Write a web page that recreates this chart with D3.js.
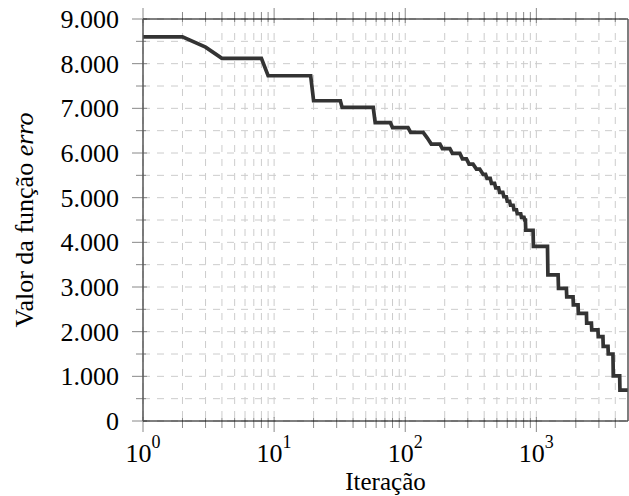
<!DOCTYPE html>
<html>
<head>
<meta charset="utf-8">
<script src="https://cdn.jsdelivr.net/npm/d3@7"></script>
<style>
  body { margin: 0; background: #fff; }
  text { font-family: 'Liberation Serif', serif; fill: #000; }
</style>
</head>
<body>
<div id="chart"></div>
<script>
// Data: iteration / error value vertices of the curve
var iterations = [1, 2, 3, 4, 8, 9, 19, 20, 32, 33, 57, 59, 77, 80, 105, 110,
  137, 147, 158, 184, 192, 219, 229, 261, 273, 293, 307, 329, 349, 370, 393,
  410, 420, 445, 455, 480, 490, 515, 525, 555, 565, 590, 600, 625, 635, 665,
  675, 705, 715, 760, 770, 805, 815, 825, 830, 944, 950, 1216, 1225, 1465,
  1475, 1695, 1705, 1905, 1915, 2080, 2090, 2410, 2420, 2630, 2645, 2950,
  2965, 3220, 3235, 3520, 3535, 3840, 3860, 4320, 4340, 5000]
var errorValues = [8600, 8600, 8370, 8120, 8120, 7730, 7730, 7170, 7170, 7020,
  7020, 6680, 6680, 6570, 6570, 6460, 6460, 6340, 6200, 6200, 6100, 6100,
  5990, 5990, 5870, 5870, 5750, 5750, 5640, 5640, 5520, 5520, 5430, 5430,
  5320, 5320, 5220, 5220, 5120, 5120, 5020, 5020, 4920, 4920, 4830, 4830,
  4730, 4730, 4640, 4640, 4560, 4560, 4500, 4500, 4270, 4270, 3910, 3910,
  3270, 3270, 2970, 2970, 2780, 2780, 2600, 2600, 2410, 2410, 2190, 2190,
  2040, 2040, 1890, 1890, 1670, 1670, 1500, 1500, 1010, 1010, 690, 690]

var yTicks = [0, 1000, 2000, 3000, 4000, 5000, 6000, 7000, 8000, 9000]
var yMinorTicks = [500, 1500, 2500, 3500, 4500, 5500, 6500, 7500, 8500]
var xTicks = [1, 10, 100, 1000]
var xExponents = ['0', '1', '2', '3']
var xMinorTicks = [2, 3, 4, 5, 6, 7, 8, 9, 20, 30, 40, 50, 60, 70, 80, 90,
  200, 300, 400, 500, 600, 700, 800, 900, 2000, 3000, 4000]

var margin = { top: 19, left: 143, right: 1, bottom: 75 }
var width = 629 - margin.left - margin.right
var height = 496 - margin.top - margin.bottom

var svg = d3
  .select('#chart')
  .append('svg')
  .attr('width', 629)
  .attr('height', 496)
  .append('g')
  .attr('transform', `translate(${margin.left},${margin.top})`)

var xPositionScale = d3.scaleLog().domain([1, 5000]).range([0, width])
var yPositionScale = d3.scaleLinear().domain([0, 9000]).range([height, 0])

// dashed grid
var gridX = xTicks.concat(xMinorTicks)
svg
  .selectAll('.grid-x')
  .data(gridX)
  .enter()
  .append('line')
  .attr('x1', d => xPositionScale(d))
  .attr('x2', d => xPositionScale(d))
  .attr('y1', 0)
  .attr('y2', height)
  .attr('stroke', '#cccccc')
  .attr('stroke-dasharray', '7,7')

svg
  .selectAll('.grid-y')
  .data(yTicks.concat(yMinorTicks))
  .enter()
  .append('line')
  .attr('x1', 0)
  .attr('x2', width)
  .attr('y1', d => yPositionScale(d))
  .attr('y2', d => yPositionScale(d))
  .attr('stroke', '#cccccc')
  .attr('stroke-dasharray', '7,7')

// ticks
function xTickMarks(values, y0, dir, outLen, inLen) {
  svg
    .append('g')
    .selectAll('line')
    .data(values)
    .enter()
    .append('line')
    .attr('x1', d => xPositionScale(d))
    .attr('x2', d => xPositionScale(d))
    .attr('y1', y0 - dir * inLen)
    .attr('y2', y0 + dir * outLen)
    .attr('stroke', '#888')
    .attr('stroke-width', 1)
}
xTickMarks(xTicks, height, 1, 11, 4)
xTickMarks(xMinorTicks, height, 1, 7, 3)
xTickMarks(xTicks, 0, -1, 11, 4)
xTickMarks(xMinorTicks, 0, -1, 7, 3)

function yTickMarks(values, outLen, inLen) {
  svg
    .append('g')
    .selectAll('line')
    .data(values)
    .enter()
    .append('line')
    .attr('x1', -outLen)
    .attr('x2', inLen)
    .attr('y1', d => yPositionScale(d))
    .attr('y2', d => yPositionScale(d))
    .attr('stroke', '#888')
    .attr('stroke-width', 1)
}
yTickMarks(yTicks, 11, 4)
yTickMarks(yMinorTicks, 7, 3)

// the curve
var line = d3
  .line()
  .x(d => xPositionScale(d[0]))
  .y(d => yPositionScale(d[1]))

svg
  .append('path')
  .datum(d3.zip(iterations, errorValues))
  .attr('d', line)
  .attr('fill', 'none')
  .attr('stroke', '#333333')
  .attr('stroke-width', 3.7)

// frame
svg.append('line').attr('x1', 0).attr('x2', width).attr('y1', 0).attr('y2', 0)
  .attr('stroke', '#000')
svg.append('line').attr('x1', 0).attr('x2', width).attr('y1', height).attr('y2', height)
  .attr('stroke', '#000')
svg.append('line').attr('x1', 0).attr('x2', 0).attr('y1', 0).attr('y2', height)
  .attr('stroke', '#555').attr('stroke-width', 1.5)
svg.append('line').attr('x1', width).attr('x2', width).attr('y1', 0).attr('y2', height)
  .attr('stroke', '#555').attr('stroke-width', 1.5)

// y tick labels
var fmt = d3.formatLocale({ decimal: ',', thousands: '.', grouping: [3], currency: ['', ''] })
svg
  .selectAll('.y-label')
  .data(yTicks)
  .enter()
  .append('text')
  .attr('x', -24)
  .attr('y', d => yPositionScale(d))
  .attr('dy', '0.34em')
  .attr('text-anchor', 'end')
  .attr('font-size', 26)
  .text(d => fmt.format(',')(d))

// x tick labels: 10^k
var xLabels = svg
  .selectAll('.x-label')
  .data(xTicks)
  .enter()
  .append('text')
  .attr('x', d => xPositionScale(d))
  .attr('y', height + 41)
  .attr('text-anchor', 'middle')
  .attr('font-size', 26)
xLabels.append('tspan').text('10')
xLabels
  .append('tspan')
  .attr('dy', -14)
  .attr('font-size', 18)
  .text((d, i) => xExponents[i])

// axis titles
svg
  .append('text')
  .attr('x', width / 2)
  .attr('y', height + 69)
  .attr('text-anchor', 'middle')
  .attr('font-size', 25)
  .text('Iteração')

var yTitle = svg
  .append('text')
  .attr('transform', `translate(${-110},${height / 2}) rotate(-90)`)
  .attr('text-anchor', 'middle')
  .attr('font-size', 26)
yTitle.append('tspan').text('Valor da função ')
yTitle.append('tspan').attr('font-style', 'italic').text('erro')
</script>
</body>
</html>
